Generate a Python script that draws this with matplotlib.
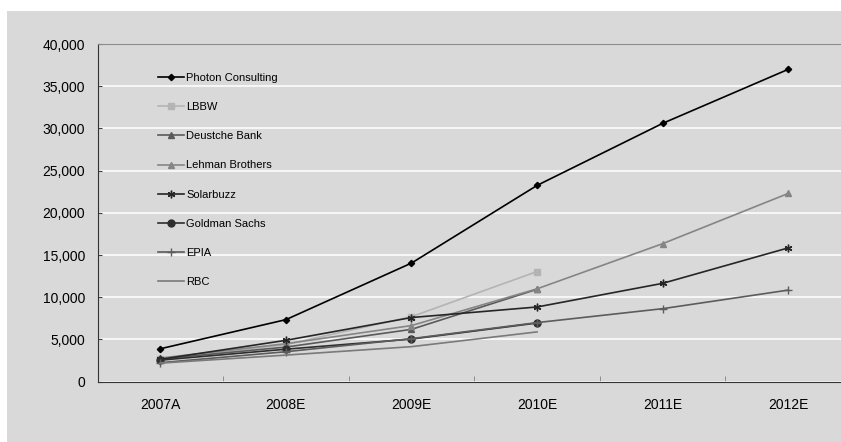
from matplotlib import pyplot as plt
from matplotlib.patches import Rectangle
from matplotlib.ticker import FuncFormatter, FixedLocator
import numpy as np

plt.rcParams['font.family'] = ['Liberation Sans', 'DejaVu Sans']

years = ['2007A', '2008E', '2009E', '2010E', '2011E', '2012E']

photon = [3900, 7350, 14050, 23250, 30600, 37000]
lbbw = [2650, 4400, 7700, 13050]
deutsche = [2700, 4100, 6200, 10950]
lehman = [2800, 4500, 6650, 11000, 16350, 22300]
solarbuzz = [2650, 4900, 7600, 8850, 11650, 15850]
goldman = [2550, 3850, 5050, 6950]
epia = [2250, 3550, 5100, 7000, 8650, 10850]
rbc = [2200, 3150, 4150, 5900]

series = [
    ('Photon Consulting', photon, '#000000', 'D', 3.2),
    ('LBBW', lbbw, '#b4b4b4', 's', 5),
    ('Deustche Bank', deutsche, '#5a5a5a', '^', 5),
    ('Lehman Brothers', lehman, '#858585', '^', 5),
    ('Solarbuzz', solarbuzz, '#262626', (6, 2, 0), 5.5),
    ('Goldman Sachs', goldman, '#2e2e2e', 'o', 5),
    ('EPIA', epia, '#5c5c5c', '+', 6),
    ('RBC', rbc, '#7a7a7a', None, 0),
]

bg = '#d9d9d9'

fig = plt.figure(figsize=(8.41, 4.42), dpi=100)
fig.patch.set_facecolor('white')
fig.patches.append(Rectangle((7 / 841, 0), 1, 431 / 442, transform=fig.transFigure,
                             facecolor=bg, edgecolor='none', zorder=-10))

ax = fig.add_axes([97.5 / 841, 60.3 / 442, 1 - 97.5 / 841, 337.7 / 442])
ax.set_facecolor(bg)

x = np.arange(len(years))
for name, vals, color, marker, ms in series:
    ax.plot(x[:len(vals)], vals, color=color, lw=1.2, marker=marker, markersize=ms,
            markeredgewidth=1.0, label=name)

ax.set_xlim(-0.5, 5.42)
ax.set_ylim(0, 40000)
ax.set_yticks(np.arange(0, 40001, 5000))
ax.yaxis.set_major_formatter(FuncFormatter(lambda v, p: f'{int(v):,}'))
ax.grid(axis='y', color='white', lw=1.1)
ax.set_axisbelow(True)

ax.set_xticks(x)
ax.set_xticklabels(years)
ax.xaxis.set_minor_locator(FixedLocator(x[:-1] + 0.5))
ax.tick_params(axis='x', which='major', length=0, pad=11.5, labelsize=10)
ax.tick_params(axis='x', which='minor', direction='in', length=4, color='#808080')
ax.tick_params(axis='y', direction='in', length=3, pad=9, labelsize=10, color='#404040')

ax.spines['right'].set_visible(False)
ax.spines['top'].set_color('#8c8c8c')
ax.spines['left'].set_color('#333333')
ax.spines['bottom'].set_color('#333333')

ax.legend(loc='center left', bbox_to_anchor=(0.0814, 0.597), frameon=False,
          fontsize=8, labelspacing=1.73, handlelength=2.3, handletextpad=0.25,
          borderpad=0, borderaxespad=0)

plt.savefig('out.png', dpi=100, facecolor=fig.get_facecolor())
